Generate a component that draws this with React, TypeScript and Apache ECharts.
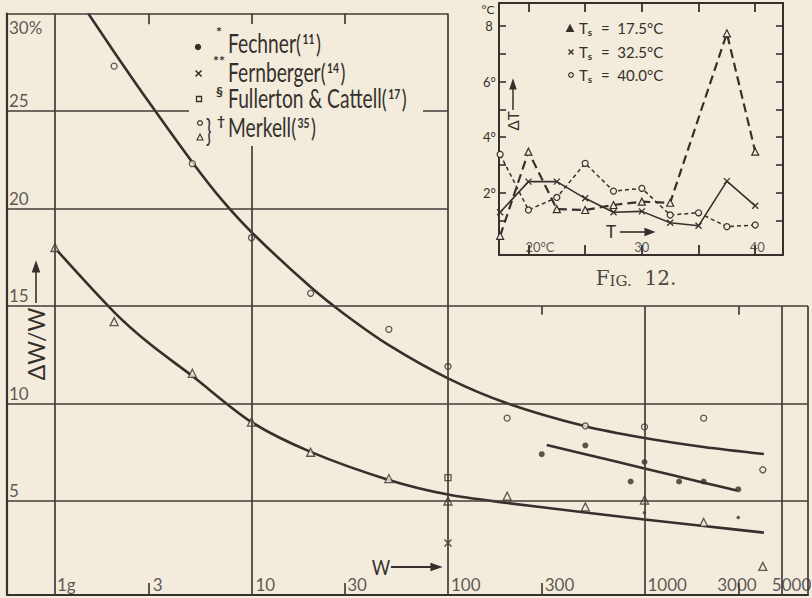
import React, { useEffect, useRef } from 'react';
import * as echarts from 'echarts';

const INK = '#35302c';
const GRID_INK = '#433c38';
const BG = '#f3ecdc';
const FONT = 'Lato, "Open Sans", sans-serif';

// ---------------- main chart: ΔW/W against W (log scale) ----------------
const W_MIN = 0.57;
const W_MAX = 6793;
const V_MIN = 0.18;
const V_MAX = 30;

// Merkell, open circles
const merkellCircleW = [2, 5, 10, 20, 50, 100, 200, 500, 1000, 2000, 4000];
const merkellCircleV = [27.3, 22.3, 18.5, 15.65, 13.8, 11.9, 9.25, 8.85, 8.8, 9.25, 6.6];
// Merkell, open triangles
const merkellTriW = [1, 2, 5, 10, 20, 50, 100, 200, 500, 1000, 2000, 4000];
const merkellTriV = [18.0, 14.2, 11.55, 9.05, 7.5, 6.15, 5.0, 5.25, 4.7, 5.05, 3.9, 1.65];
// Fechner, filled dots
const fechnerW = [300, 500, 850, 1000, 1500, 2000, 3000];
const fechnerV = [7.4, 7.85, 6.0, 7.0, 6.0, 6.0, 5.6];
const fechnerSmallW = [1000, 3000];
const fechnerSmallV = [4.4, 4.15];
// Fernberger, cross
const fernbergerW = [100];
const fernbergerV = [2.85];
// Fullerton & Cattell, square
const fullertonW = [100];
const fullertonV = [6.2];

// drawn curves
const upperCurveW = [1.477, 2, 3, 5, 7, 10, 20, 30, 50, 100, 200, 500, 1000, 2000, 4050];
const upperCurveV = [30, 28.03, 25.47, 22.37, 20.49, 18.79, 15.97, 14.55, 12.99, 11.29, 10.01, 8.83, 8.23, 7.77, 7.41];
const lowerCurveW = [1, 2, 3, 5, 10, 20, 50, 100, 200, 500, 1000, 2000, 4050];
const lowerCurveV = [17.97, 14.69, 13.1, 11.41, 9.05, 7.52, 6.08, 5.33, 4.9, 4.41, 4.05, 3.72, 3.38];
const fechnerCurveW = [318, 500, 1000, 2000, 2950];
const fechnerCurveV = [7.87, 7.4, 6.67, 5.94, 5.54];

// axis furniture
const xTickValues = [1, 3, 10, 30, 100, 300, 1000, 3000, 5000];
const xTickLabels = ['1g', '3', '10', '30', '100', '300', '1000', '3000', '5000'];
const yTickValues = [5, 10, 15, 20, 25, 30];
const yTickLabels = ['5', '10', '15', '20', '25', '30%'];
const fullVerticals = [1, 10, 100];
const lowerVerticals = [1000, 5000];
const fullHorizontals = [5, 10, 15];
const leftHorizontals = [20, 25, 30];
const topTicksLeft = [3, 30];
const topTicksRight = [300, 3000];
const bottomTicks = [3, 30, 300, 3000];

// label offsets (styling only)
const xLabelDx = [2, 4, 4, 2, 3, 3, 3, -21, -10];
const yLabelDy = [-10.5, -10.5, -10.5, -10.5, -10.5, 13.5];

// ---------------- inset (Fig. 12): ΔT against T ----------------
const T_MIN = 17.4;
const T_MAX = 42.45;
const DT_MIN = -0.24;
const DT_MAX = 8.83;
const ts175T = [17.5, 20, 22.5, 25, 27.5, 30, 32.5, 37.5, 40];
const ts175V = [0.45, 3.48, 1.41, 1.38, 1.56, 1.68, 1.64, 7.74, 3.48];
const ts325T = [17.5, 20, 22.5, 25, 27.5, 30, 32.5, 35, 37.5, 40];
const ts325V = [1.3, 2.4, 2.4, 1.8, 1.3, 1.33, 0.92, 0.81, 2.42, 1.53];
const ts40T = [17.5, 20, 22.5, 25, 27.5, 30, 32.5, 35, 37.5, 40];
const ts40V = [3.38, 1.38, 1.83, 3.06, 2.06, 2.16, 1.2, 1.28, 0.78, 0.84];
const insetXTicks = [20, 25, 30, 35, 40];
const insetXLabelValues = [20, 30, 40];
const insetXLabelTexts = ['20°C', '30', '40'];
const insetXLabelDx = [11.5, 0, 2];
const insetYTicks = [1, 2, 3, 4, 5, 6, 7, 8];
const insetYLabelValues = [2, 4, 6, 8];

const zip = (a: number[], b: number[]) => a.map((x, i) => [x, b[i]]);
const seg = (x1: number, y1: number, x2: number, y2: number) => [
  { coord: [x1, y1] },
  { coord: [x2, y2] },
];

const gridSegs = [
  ...fullVerticals.map((w) => seg(w, V_MIN, w, V_MAX)),
  ...lowerVerticals.map((w) => seg(w, V_MIN, w, 15)),
  ...fullHorizontals.map((v) => seg(W_MIN, v, W_MAX, v)),
  ...leftHorizontals.map((v) => seg(W_MIN, v, 100, v)),
  seg(W_MAX, V_MIN, W_MAX, 15),
  ...topTicksLeft.map((w) => seg(w, 30, w, 29.45)),
  ...topTicksRight.map((w) => seg(w, 15, w, 14.55)),
  ...bottomTicks.map((w) => seg(w, V_MIN, w, 0.8)),
];

const hollow = { color: BG, borderColor: INK, borderWidth: 1.3 };

function buildGraphic() {
  const els: any[] = [];
  const Z = 100;
  const text = (x: number, y: number, style: any, extra: any = {}) =>
    els.push({
      type: 'text',
      x,
      y,
      z: Z + 1,
      silent: true,
      style: { fill: INK, fontFamily: FONT, align: 'left', verticalAlign: 'middle', ...style },
      ...extra,
    });
  const line = (x1: number, y1: number, x2: number, y2: number, w = 1.6) =>
    els.push({ type: 'line', z: Z + 1, silent: true, shape: { x1, y1, x2, y2 }, style: { stroke: INK, lineWidth: w } });
  const poly = (pts: number[][], fill = INK) =>
    els.push({ type: 'polygon', z: Z + 1, silent: true, shape: { points: pts }, style: { fill, stroke: INK, lineWidth: 1.1 } });
  const circ = (cx: number, cy: number, r: number, filled: boolean) =>
    els.push({
      type: 'circle',
      z: Z + 1,
      silent: true,
      shape: { cx, cy, r },
      style: { fill: filled ? INK : BG, stroke: INK, lineWidth: 1.2 },
    });

  // legend cover
  els.push({ type: 'rect', z: Z, silent: true, shape: { x: 189, y: 24, width: 234, height: 122 }, style: { fill: BG } });

  const legRich = {
    n: { fontSize: 26, fontFamily: FONT, fill: INK },
    p: { fontSize: 25, fontFamily: FONT, fill: INK },
    r: { fontSize: 14, fontFamily: FONT, fontWeight: 'bold', fill: INK, verticalAlign: 'top', padding: [2, 2, 0, 2] },
  };
  const legendRows = [
    { name: 'Fechner', ref: '11', y: 43, note: '*', ny: 31, nx: 216 },
    { name: 'Fernberger', ref: '14', y: 72, note: '**', ny: 60, nx: 213 },
    { name: 'Fullerton & Cattell', ref: '17', y: 98, note: '§', ny: 91, nx: 216 },
    { name: 'Merkell', ref: '35', y: 127, note: '†', ny: 120, nx: 217 },
  ];
  legendRows.forEach((r) => {
    text(228, r.y, { text: `{n|${r.name}}{p|(}{r|${r.ref}}{p|)}`, rich: legRich }, { scaleX: 0.74 });
    text(r.nx, r.ny, { text: r.note, fontSize: 14, fontWeight: 'bold' });
  });
  circ(198, 47, 2.6, true);
  line(195.5, 70.5, 201.5, 76.5, 1.6);
  line(201.5, 70.5, 195.5, 76.5, 1.6);
  els.push({
    type: 'rect',
    z: Z + 1,
    silent: true,
    shape: { x: 196.5, y: 96.5, width: 5, height: 5 },
    style: { fill: BG, stroke: INK, lineWidth: 1.3 },
  });
  circ(200, 123, 2.4, false);
  poly([[197, 140], [200, 134], [203, 140]], BG);
  text(206, 130, { text: '}', fontSize: 30 }, { scaleX: 0.6 });

  // y axis title
  text(36, 344, { text: 'ΔW/W', fontSize: 23, align: 'center' }, { rotation: Math.PI / 2 });
  line(36, 303, 36, 268, 1.6);
  poly([[32.5, 272], [36, 262], [39.5, 272]]);
  // x axis title
  text(381, 567, { text: 'W', fontSize: 21, align: 'center' }, { scaleX: 0.85 });
  line(391, 567, 433, 567, 1.8);
  poly([[431, 563.5], [441, 567], [431, 570.5]]);

  // inset furniture
  text(488, 9, { text: '°C', fontSize: 12, align: 'center' });
  text(513, 121, { text: 'ΔT', fontSize: 15, align: 'center' }, { rotation: Math.PI / 2 });
  line(513, 110, 513, 86, 1.5);
  poly([[510, 89], [513, 80], [516, 89]]);
  text(611, 231, { text: 'T', fontSize: 17, align: 'center' });
  line(620, 232, 648, 232, 1.6);
  poly([[645, 228.5], [654, 232], [645, 235.5]]);

  const insRich = {
    t: { fontSize: 15, fontFamily: FONT, fill: INK },
    s: { fontSize: 10, fontFamily: FONT, fontWeight: 'bold', fill: INK, verticalAlign: 'bottom', padding: [7, 1, 0, 0] },
  };
  const insetLegend = [
    { t: '17.5°C', y: 28 },
    { t: '32.5°C', y: 52 },
    { t: '40.0°C', y: 75 },
  ];
  insetLegend.forEach((r) => text(579, r.y, { text: `{t|T}{s|s}{t|  =  ${r.t}}`, rich: insRich }));
  poly([[566.5, 31.5], [570, 25], [573.5, 31.5]]);
  line(568.5, 49.5, 573.5, 54.5, 1.4);
  line(573.5, 49.5, 568.5, 54.5, 1.4);
  circ(571, 75, 2.3, false);

  // caption
  text(636, 278, {
    text: '{a|F}{b|IG.}{a|  12.}',
    align: 'center',
    rich: {
      a: { fontSize: 20, fontFamily: '"DejaVu Serif", "Liberation Serif", serif', fill: '#4d4642' },
      b: { fontSize: 15, fontFamily: '"DejaVu Serif", "Liberation Serif", serif', fill: '#4d4642', verticalAlign: 'bottom', padding: [4, 0, 0, 0] },
    },
  });
  return els;
}

function buildOption(): any {
  const labelBase = { show: true, position: 'inside', color: INK, fontFamily: FONT, formatter: '{b}' };
  const curve = (name: string, w: number[], v: number[]) => ({
    name,
    type: 'line',
    xAxisIndex: 0,
    yAxisIndex: 0,
    smooth: 0.3,
    symbol: 'none',
    z: 3,
    lineStyle: { color: INK, width: 2.6 },
    data: zip(w, v),
  });
  return {
    animation: false,
    backgroundColor: BG,
    grid: [
      { left: 7, right: 4, top: 13.5, bottom: 3 },
      { left: 499, top: 3, width: 284, height: 252 },
    ],
    xAxis: [
      {
        type: 'log',
        logBase: 10,
        gridIndex: 0,
        min: W_MIN,
        max: W_MAX,
        axisLine: { show: true, onZero: false, lineStyle: { color: INK, width: 2.2 } },
        axisTick: { show: false },
        axisLabel: { show: false },
        splitLine: { show: false },
      },
      {
        type: 'value',
        gridIndex: 1,
        position: 'bottom',
        min: T_MIN,
        max: T_MAX,
        axisLine: { show: true, onZero: false, lineStyle: { color: INK, width: 2 } },
        axisTick: { show: true, inside: true, length: 10, customValues: insetXTicks, lineStyle: { color: INK, width: 1.8 } },
        axisLabel: { show: false },
        splitLine: { show: false },
      },
      {
        type: 'value',
        gridIndex: 1,
        position: 'top',
        min: T_MIN,
        max: T_MAX,
        axisLine: { show: true, onZero: false, lineStyle: { color: INK, width: 2 } },
        axisTick: { show: true, inside: true, length: 9, customValues: insetXTicks, lineStyle: { color: INK, width: 1.8 } },
        axisLabel: { show: false },
        splitLine: { show: false },
      },
    ],
    yAxis: [
      {
        type: 'value',
        gridIndex: 0,
        min: V_MIN,
        max: V_MAX,
        axisLine: { show: true, onZero: false, lineStyle: { color: INK, width: 2.2 } },
        axisTick: { show: false },
        axisLabel: { show: false },
        splitLine: { show: false },
      },
      {
        type: 'value',
        gridIndex: 1,
        position: 'left',
        min: DT_MIN,
        max: DT_MAX,
        axisLine: { show: true, onZero: false, lineStyle: { color: INK, width: 2 } },
        axisTick: { show: true, inside: true, length: 7, customValues: insetYTicks, lineStyle: { color: INK, width: 1.6 } },
        axisLabel: {
          show: true,
          customValues: insetYLabelValues,
          margin: 3,
          fontSize: 13,
          fontFamily: FONT,
          color: INK,
          formatter: (v: number) => (v === 8 ? '8 ' : `${v}°`),
        },
        splitLine: { show: false },
      },
      {
        type: 'value',
        gridIndex: 1,
        position: 'right',
        min: DT_MIN,
        max: DT_MAX,
        axisLine: { show: true, onZero: false, lineStyle: { color: INK, width: 2 } },
        axisTick: { show: true, inside: true, length: 7, customValues: insetYTicks, lineStyle: { color: INK, width: 1.6 } },
        axisLabel: { show: false },
        splitLine: { show: false },
      },
    ],
    series: [
      {
        name: 'grid',
        type: 'line',
        xAxisIndex: 0,
        yAxisIndex: 0,
        z: 1,
        silent: true,
        symbol: 'none',
        data: [[W_MIN, V_MIN]],
        lineStyle: { opacity: 0 },
        markLine: {
          silent: true,
          symbol: ['none', 'none'],
          label: { show: false },
          lineStyle: { color: GRID_INK, width: 1.7, type: 'solid' },
          emphasis: { disabled: true },
          data: gridSegs,
        },
      },
      curve('Merkell ○ curve', upperCurveW, upperCurveV),
      curve('Merkell △ curve', lowerCurveW, lowerCurveV),
      curve('Fechner curve', fechnerCurveW, fechnerCurveV),
      {
        name: 'Merkell ○',
        type: 'scatter',
        xAxisIndex: 0,
        yAxisIndex: 0,
        symbol: 'circle',
        symbolSize: 6,
        z: 4,
        itemStyle: hollow,
        data: zip(merkellCircleW, merkellCircleV),
      },
      {
        name: 'Merkell △',
        type: 'scatter',
        xAxisIndex: 0,
        yAxisIndex: 0,
        symbol: 'triangle',
        symbolSize: 8,
        z: 4,
        itemStyle: hollow,
        data: zip(merkellTriW, merkellTriV),
      },
      {
        name: 'Fechner',
        type: 'scatter',
        xAxisIndex: 0,
        yAxisIndex: 0,
        symbol: 'circle',
        symbolSize: 6,
        z: 4,
        itemStyle: { color: INK },
        data: zip(fechnerW, fechnerV),
      },
      {
        name: 'Fechner (small)',
        type: 'scatter',
        xAxisIndex: 0,
        yAxisIndex: 0,
        symbol: 'circle',
        symbolSize: 3.5,
        z: 4,
        itemStyle: { color: INK },
        data: zip(fechnerSmallW, fechnerSmallV),
      },
      {
        name: 'Fernberger',
        type: 'scatter',
        xAxisIndex: 0,
        yAxisIndex: 0,
        symbol: 'path://M0,0L10,10M10,0L0,10',
        symbolSize: 7,
        z: 4,
        itemStyle: { color: 'none', borderColor: INK, borderWidth: 1.5 },
        data: zip(fernbergerW, fernbergerV),
      },
      {
        name: 'Fullerton & Cattell',
        type: 'scatter',
        xAxisIndex: 0,
        yAxisIndex: 0,
        symbol: 'rect',
        symbolSize: 6,
        z: 4,
        itemStyle: hollow,
        data: zip(fullertonW, fullertonV),
      },
      {
        name: 'x labels',
        type: 'scatter',
        xAxisIndex: 0,
        yAxisIndex: 0,
        symbolSize: 1,
        silent: true,
        z: 5,
        itemStyle: { color: 'transparent' },
        label: { ...labelBase, align: 'left', verticalAlign: 'middle', fontSize: 17 },
        data: xTickValues.map((w, i) => ({
          name: xTickLabels[i],
          value: [w, V_MIN],
          label: { offset: [xLabelDx[i], -11] },
        })),
      },
      {
        name: 'y labels',
        type: 'scatter',
        xAxisIndex: 0,
        yAxisIndex: 0,
        symbolSize: 1,
        silent: true,
        z: 5,
        itemStyle: { color: 'transparent' },
        label: { ...labelBase, align: 'left', verticalAlign: 'middle', fontSize: 17 },
        data: yTickValues.map((v, i) => ({
          name: yTickLabels[i],
          value: [W_MIN, v],
          label: { offset: [2, yLabelDy[i]] },
        })),
      },
      // inset series
      {
        name: 'Ts = 17.5°C',
        type: 'line',
        xAxisIndex: 1,
        yAxisIndex: 1,
        symbol: 'triangle',
        symbolSize: 7,
        z: 3,
        itemStyle: { color: BG, borderColor: INK, borderWidth: 1.2 },
        lineStyle: { color: INK, width: 2.2, type: [9, 5] },
        data: zip(ts175T, ts175V),
      },
      {
        name: 'Ts = 32.5°C',
        type: 'line',
        xAxisIndex: 1,
        yAxisIndex: 1,
        symbol: 'path://M0,0L10,10M10,0L0,10',
        symbolSize: 6,
        z: 3,
        itemStyle: { color: 'none', borderColor: INK, borderWidth: 1.3 },
        lineStyle: { color: INK, width: 1.6 },
        data: zip(ts325T, ts325V),
      },
      {
        name: 'Ts = 40.0°C',
        type: 'line',
        xAxisIndex: 1,
        yAxisIndex: 1,
        symbol: 'circle',
        symbolSize: 6,
        z: 3,
        itemStyle: { color: BG, borderColor: INK, borderWidth: 1.2 },
        lineStyle: { color: INK, width: 1.5, type: [4, 3] },
        data: zip(ts40T, ts40V),
      },
      {
        name: 'inset x labels',
        type: 'scatter',
        xAxisIndex: 1,
        yAxisIndex: 1,
        symbolSize: 1,
        silent: true,
        z: 5,
        itemStyle: { color: 'transparent' },
        label: { ...labelBase, align: 'center', verticalAlign: 'middle', fontSize: 13 },
        data: insetXLabelValues.map((t, i) => ({
          name: insetXLabelTexts[i],
          value: [t, DT_MIN],
          label: { offset: [insetXLabelDx[i], -8] },
        })),
      },
    ],
    graphic: { elements: buildGraphic() },
  };
}

export default function App() {
  const ref = useRef<HTMLDivElement>(null);
  useEffect(() => {
    document.body.style.margin = '0';
    document.body.style.background = BG;
    const chart = echarts.init(ref.current!, undefined, { renderer: 'svg' });
    chart.setOption(buildOption());
    return () => chart.dispose();
  }, []);
  return (
    <div
      ref={ref}
      style={{ position: 'absolute', left: 0, top: 0, width: 812, height: 598, background: BG }}
    />
  );
}
